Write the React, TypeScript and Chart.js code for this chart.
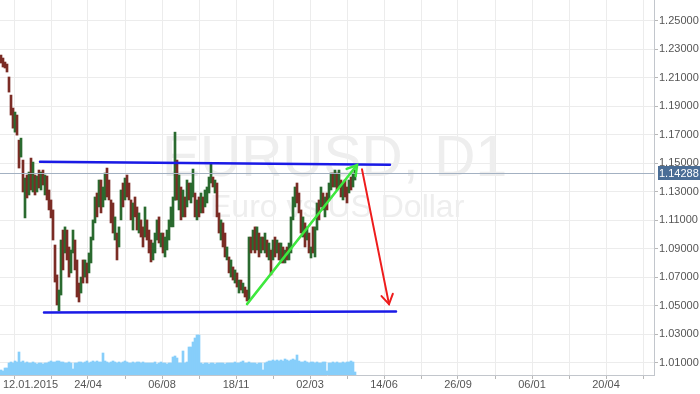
import React, { useEffect, useRef } from 'react';
import { Chart, registerables } from 'chart.js';

Chart.register(...registerables);

// ---- Data (one entry = 2 trading days) ----
const highs = [
  1.2259, 1.2238, 1.2210, 1.2196, 1.2105, 1.1978, 1.1887, 1.1859, 1.1838, 1.1662,
  1.1676, 1.1522, 1.1396, 1.1417, 1.1438, 1.1536, 1.1508, 1.1417, 1.1410, 1.1452,
  1.1438, 1.1452, 1.1417, 1.1410, 1.1312, 1.1242, 1.1172, 1.0926, 1.0716, 1.0610,
  1.0961, 1.1031, 1.1053, 1.1031, 1.0912, 1.0891, 1.1031, 1.0961, 1.0821, 1.0659,
  1.0701, 1.0821, 1.0821, 1.0800, 1.0870, 1.0982, 1.1102, 1.1263, 1.1291, 1.1382,
  1.1382, 1.1333, 1.1431, 1.1466, 1.1382, 1.1242, 1.1221, 1.1123, 1.1010, 1.1053,
  1.1312, 1.1361, 1.1396, 1.1417, 1.1361, 1.1242, 1.1221, 1.1263, 1.1193, 1.1151,
  1.1102, 1.1053, 1.1193, 1.1102, 1.1031, 1.0961, 1.0940, 1.1010, 1.1102, 1.1123,
  1.1010, 1.1010, 1.0982, 1.1031, 1.1102, 1.1193, 1.1263, 1.1718, 1.1522, 1.1417,
  1.1333, 1.1312, 1.1263, 1.1382, 1.1361, 1.1361, 1.1459, 1.1291, 1.1242, 1.1263,
  1.1291, 1.1263, 1.1312, 1.1333, 1.1403, 1.1501, 1.1403, 1.1382, 1.1361, 1.1151,
  1.1102, 1.1081, 1.1010, 1.0912, 1.0842, 1.0821, 1.0772, 1.0751, 1.0730, 1.0680,
  1.0680, 1.0659, 1.0631, 1.0610, 1.0982, 1.0982, 1.1031, 1.1053, 1.1053, 1.1010,
  1.0982, 1.0982, 1.1010, 1.0961, 1.0940, 1.0891, 1.0961, 1.0982, 1.0961, 1.0940,
  1.0940, 1.0912, 1.0891, 1.0912, 1.0940, 1.1123, 1.1263, 1.1333, 1.1361, 1.1291,
  1.1172, 1.1123, 1.1081, 1.1053, 1.1010, 1.0912, 1.1053, 1.1053, 1.1221, 1.1242,
  1.1333, 1.1291, 1.1263, 1.1291, 1.1361, 1.1431, 1.1431, 1.1452, 1.1431, 1.1452,
  1.1382, 1.1361, 1.1382, 1.1333, 1.1382, 1.1403, 1.1431, 1.1452,
];
const lows = [
  1.2203, 1.2175, 1.2168, 1.2140, 1.1999, 1.1838, 1.1746, 1.1718, 1.1697, 1.1466,
  1.1543, 1.1298, 1.1116, 1.1256, 1.1277, 1.1312, 1.1298, 1.1277, 1.1298, 1.1326,
  1.1312, 1.1347, 1.1277, 1.1242, 1.1172, 1.1116, 1.0961, 1.0666, 1.0505, 1.0463,
  1.0575, 1.0751, 1.0870, 1.0821, 1.0701, 1.0730, 1.0870, 1.0751, 1.0561, 1.0526,
  1.0589, 1.0659, 1.0701, 1.0659, 1.0730, 1.0800, 1.0961, 1.1081, 1.1123, 1.1193,
  1.1151, 1.1193, 1.1242, 1.1263, 1.1242, 1.1081, 1.1010, 1.0961, 1.0821, 1.0912,
  1.1102, 1.1193, 1.1242, 1.1263, 1.1242, 1.1102, 1.1031, 1.1123, 1.1031, 1.1010,
  1.0982, 1.0912, 1.0982, 1.0961, 1.0870, 1.0807, 1.0821, 1.0870, 1.0961, 1.0940,
  1.0912, 1.0870, 1.0842, 1.0891, 1.0961, 1.1053, 1.1053, 1.1240, 1.1242, 1.1172,
  1.1102, 1.1123, 1.1123, 1.1193, 1.1242, 1.1221, 1.1263, 1.1123, 1.1102, 1.1123,
  1.1151, 1.1151, 1.1193, 1.1221, 1.1291, 1.1361, 1.1333, 1.1291, 1.1123, 1.1010,
  1.0961, 1.0912, 1.0842, 1.0821, 1.0730, 1.0701, 1.0680, 1.0659, 1.0631, 1.0589,
  1.0610, 1.0589, 1.0561, 1.0533, 1.0540, 1.0870, 1.0891, 1.0870, 1.0891, 1.0842,
  1.0870, 1.0891, 1.0870, 1.0842, 1.0821, 1.0716, 1.0821, 1.0842, 1.0870, 1.0821,
  1.0800, 1.0800, 1.0800, 1.0821, 1.0821, 1.0870, 1.1102, 1.1193, 1.1221, 1.1151,
  1.1010, 1.0982, 1.0912, 1.0961, 1.0870, 1.0835, 1.0870, 1.0842, 1.1031, 1.1102,
  1.1193, 1.1172, 1.1123, 1.1172, 1.1242, 1.1312, 1.1333, 1.1333, 1.1312, 1.1333,
  1.1263, 1.1242, 1.1263, 1.1221, 1.1291, 1.1312, 1.1333, 1.1382,
];
const closes = [
  1.2215, 1.2190, 1.2180, 1.2150, 1.2010, 1.1860, 1.1800, 1.1830, 1.1710, 1.1560,
  1.1650, 1.1350, 1.1380, 1.1300, 1.1420, 1.1340, 1.1480, 1.1300, 1.1400, 1.1350,
  1.1430, 1.1360, 1.1400, 1.1280, 1.1190, 1.1130, 1.0970, 1.0700, 1.0540, 1.0590,
  1.0940, 1.0800, 1.1040, 1.0860, 1.0720, 1.0870, 1.1000, 1.0780, 1.0600, 1.0540,
  1.0690, 1.0680, 1.0810, 1.0680, 1.0850, 1.0970, 1.1090, 1.1250, 1.1140, 1.1370,
  1.1170, 1.1320, 1.1420, 1.1280, 1.1260, 1.1100, 1.1020, 1.1100, 1.0840, 1.1040,
  1.1300, 1.1210, 1.1390, 1.1280, 1.1250, 1.1110, 1.1210, 1.1140, 1.1050, 1.1140,
  1.1000, 1.0930, 1.1180, 1.0980, 1.0890, 1.0830, 1.0930, 1.0990, 1.1090, 1.0960,
  1.1000, 1.0880, 1.0970, 1.1020, 1.1090, 1.1180, 1.1250, 1.1500, 1.1260, 1.1400,
  1.1120, 1.1300, 1.1140, 1.1370, 1.1250, 1.1350, 1.1440, 1.1140, 1.1230, 1.1130,
  1.1280, 1.1160, 1.1300, 1.1320, 1.1390, 1.1480, 1.1340, 1.1370, 1.1130, 1.1020,
  1.1080, 1.0930, 1.0850, 1.0900, 1.0740, 1.0810, 1.0690, 1.0740, 1.0640, 1.0670,
  1.0620, 1.0650, 1.0570, 1.0545, 1.0970, 1.0880, 1.1020, 1.0890, 1.1040, 1.0860,
  1.0960, 1.0900, 1.1000, 1.0850, 1.0930, 1.0730, 1.0950, 1.0850, 1.0950, 1.0830,
  1.0930, 1.0810, 1.0880, 1.0830, 1.0930, 1.1110, 1.1250, 1.1320, 1.1230, 1.1160,
  1.1020, 1.1100, 1.0930, 1.1040, 1.0880, 1.0900, 1.0880, 1.1040, 1.1210, 1.1110,
  1.1320, 1.1180, 1.1250, 1.1190, 1.1350, 1.1420, 1.1340, 1.1440, 1.1320, 1.1440,
  1.1280, 1.1350, 1.1270, 1.1230, 1.1370, 1.1320, 1.1420, 1.14288,
];
const firstOpen = 1.2240;
const volumes = [
  50, 40, 70, 70, 120, 130, 120, 140, 130, 230,
  130, 140, 120, 130, 120, 120, 130, 120, 110, 120,
  120, 110, 120, 120, 130, 140, 130, 130, 140, 140,
  130, 130, 120, 120, 130, 120, 60, 120, 120, 130,
  130, 120, 130, 140, 120, 130, 140, 130, 140, 130,
  130, 220, 140, 130, 120, 130, 140, 130, 120, 130,
  120, 130, 140, 130, 120, 120, 130, 120, 130, 130,
  120, 130, 120, 120, 120, 120, 120, 130, 110, 120,
  130, 120, 120, 110, 120, 120, 180, 190, 170, 120,
  120, 240, 120, 130, 280, 280, 330, 370, 400, 400,
  120, 110, 120, 120, 110, 120, 120, 110, 120, 120,
  120, 120, 110, 120, 120, 120, 120, 130, 120, 120,
  130, 140, 120, 120, 130, 120, 120, 120, 110, 120,
  120, 50, 120, 130, 140, 140, 150, 140, 150, 140,
  150, 140, 160, 150, 140, 150, 160, 150, 200, 140,
  130, 130, 140, 130, 120, 130, 130, 120, 130, 120,
  120, 130, 130, 40, 120, 120, 130, 120, 130, 120,
  120, 130, 120, 130, 130, 140, 130, 30,
];
const DAYS_PER_CANDLE = 2;
const priceTicks = [1.01, 1.03, 1.05, 1.07, 1.09, 1.11, 1.13, 1.15, 1.17, 1.19, 1.21, 1.23, 1.25];
const xTickLabels = ['12.01.2015', '24/04', '06/08', '18/11', '02/03', '14/06', '26/09', '06/01', '20/04'];
const xTickBars = [14, 88, 162, 236, 310, 384, 458, 532, 606];
const resistanceLine = [[40, 1.1510], [390, 1.1490]];
const supportLine = [[44, 1.0453], [396, 1.0460]];
const upArrow = [[247, 1.0511], [357, 1.1487]];
const downArrow = [[362, 1.1457], [389, 1.0511]];
const lastPrice = 1.14288;
const symbolTitle = 'EURUSD, D1';
const symbolDesc = 'Euro vs US Dollar';

const FONT = "'Liberation Sans', Arial, sans-serif";
const UP = '#2a6a2f';
const DOWN = '#7b2c25';

export default function App() {
  const ref = useRef<HTMLCanvasElement | null>(null);

  useEffect(() => {
    document.body.style.margin = '0';
    const canvas = ref.current;
    if (!canvas) return;

    const opens = closes.map((_, i) => (i === 0 ? firstOpen : closes[i - 1]));
    const candleData = highs.map((h, i) => ({ x: i * DAYS_PER_CANDLE + 1, y: [lows[i], h] }));
    const candleColors = closes.map((c, i) => (c >= opens[i] ? UP : DOWN));
    const volData = volumes.map((v, i) => ({ x: i * DAYS_PER_CANDLE + 1, y: v }));

    const half = (xTickBars[1] - xTickBars[0]) / 2;
    const gridBars: number[] = [];
    xTickBars.forEach((b) => {
      gridBars.push(b);
      gridBars.push(b + half);
    });

    const bgPlugin = {
      id: 'bg',
      beforeDatasetsDraw(chart: any) {
        const { ctx, chartArea } = chart;
        ctx.save();
        ctx.fillStyle = '#eeeeee';
        ctx.textBaseline = 'alphabetic';
        ctx.textAlign = 'left';
        ctx.font = `57px ${FONT}`;
        ctx.fillText(symbolTitle, chartArea.left + 162, chartArea.top + 176);
        ctx.font = `32px ${FONT}`;
        ctx.fillText(symbolDesc, chartArea.left + 210, chartArea.top + 217);
        ctx.restore();
      },
    };

    const drawArrowHead = (ctx: CanvasRenderingContext2D, x0: number, y0: number, x1: number, y1: number) => {
      const ang = Math.atan2(y1 - y0, x1 - x0);
      const len = 11;
      const spread = 0.55;
      ctx.beginPath();
      ctx.moveTo(x1 - len * Math.cos(ang - spread), y1 - len * Math.sin(ang - spread));
      ctx.lineTo(x1, y1);
      ctx.lineTo(x1 - len * Math.cos(ang + spread), y1 - len * Math.sin(ang + spread));
      ctx.stroke();
    };

    const annoPlugin = {
      id: 'anno',
      afterDatasetsDraw(chart: any) {
        const { ctx, chartArea } = chart;
        const xs = chart.scales.x;
        const ys = chart.scales.y;
        ctx.save();
        const py = Math.round(ys.getPixelForValue(lastPrice)) + 0.5;
        ctx.strokeStyle = '#a3b1c2';
        ctx.lineWidth = 1;
        ctx.beginPath();
        ctx.moveTo(chartArea.left, py);
        ctx.lineTo(chartArea.right, py);
        ctx.stroke();

        const seg = (pts: number[][], color: string, w: number, arrow: boolean) => {
          const x0 = xs.getPixelForValue(pts[0][0]);
          const y0 = ys.getPixelForValue(pts[0][1]);
          const x1 = xs.getPixelForValue(pts[1][0]);
          const y1 = ys.getPixelForValue(pts[1][1]);
          ctx.strokeStyle = color;
          ctx.lineWidth = w;
          ctx.lineCap = 'round';
          ctx.beginPath();
          ctx.moveTo(x0, y0);
          ctx.lineTo(x1, y1);
          ctx.stroke();
          if (arrow) drawArrowHead(ctx, x0, y0, x1, y1);
        };
        seg(resistanceLine, '#1a1ae6', 2.5, false);
        seg(supportLine, '#1a1ae6', 2.5, false);
        seg(upArrow, '#3ee83e', 2.5, true);
        seg(downArrow, '#ee1c1c', 2, true);
        ctx.restore();
      },
      afterDraw(chart: any) {
        const { ctx, chartArea } = chart;
        const xs = chart.scales.x;
        const ys = chart.scales.y;
        ctx.save();
        ctx.font = `11px ${FONT}`;
        ctx.fillStyle = '#555';
        ctx.textBaseline = 'middle';
        ctx.textAlign = 'left';
        xTickLabels.forEach((lab, i) => {
          const px = xs.getPixelForValue(xTickBars[i]);
          const w = ctx.measureText(lab).width;
          const left = Math.max(3, px - w / 2);
          if (left + w < chartArea.right + 5) ctx.fillText(lab, left, chartArea.bottom + 10);
        });
        const py = Math.round(ys.getPixelForValue(lastPrice));
        ctx.fillStyle = '#4a6d96';
        ctx.fillRect(chartArea.right + 4, py - 7, 42, 14);
        ctx.fillStyle = '#ffffff';
        ctx.fillText(lastPrice.toFixed(5), chartArea.right + 5, py + 0.5);
        ctx.restore();
      },
    };

    const chart = new Chart(canvas, {
      type: 'bar',
      data: {
        datasets: [
          {
            data: volData as any,
            yAxisID: 'yv',
            backgroundColor: '#87cefa',
            barThickness: 2,
            grouped: false,
            borderWidth: 0,
          } as any,
          {
            data: candleData as any,
            yAxisID: 'y',
            backgroundColor: candleColors,
            barThickness: 2,
            grouped: false,
            borderWidth: 0,
            borderSkipped: false,
          } as any,
        ],
      },
      options: {
        responsive: false,
        animation: false,
        layout: { padding: 0 },
        plugins: { legend: { display: false }, tooltip: { enabled: false } },
        scales: {
          x: {
            type: 'linear',
            offset: false,
            min: 0,
            max: 654,
            grid: { color: '#ececec', tickLength: 4, tickColor: '#b8b8b8', offset: false },
            border: { color: '#c2c6cc' },
            ticks: { display: false },
            afterBuildTicks: (s: any) => {
              s.ticks = gridBars.map((v) => ({ value: v }));
            },
            afterFit: (s: any) => {
              s.height = 19;
            },
          },
          y: {
            position: 'right',
            min: 1.00137,
            max: 1.26453,
            grid: { color: '#ececec', tickLength: 4, tickColor: '#b8b8b8' },
            border: { color: '#c2c6cc' },
            ticks: {
              color: '#555',
              padding: 1,
              font: { family: FONT, size: 11 },
              callback: (v: any) => Number(v).toFixed(5),
            },
            afterBuildTicks: (s: any) => {
              s.ticks = priceTicks.map((v) => ({ value: v }));
            },
            afterFit: (s: any) => {
              s.width = 46;
              s.paddingTop = 0;
              s.paddingBottom = 0;
            },
          },
          yv: { display: false, min: 0, max: 3750 },
        },
      } as any,
      plugins: [bgPlugin, annoPlugin],
    });
    return () => chart.destroy();
  }, []);

  return <canvas ref={ref} width={700} height={394} style={{ display: 'block' }} />;
}
